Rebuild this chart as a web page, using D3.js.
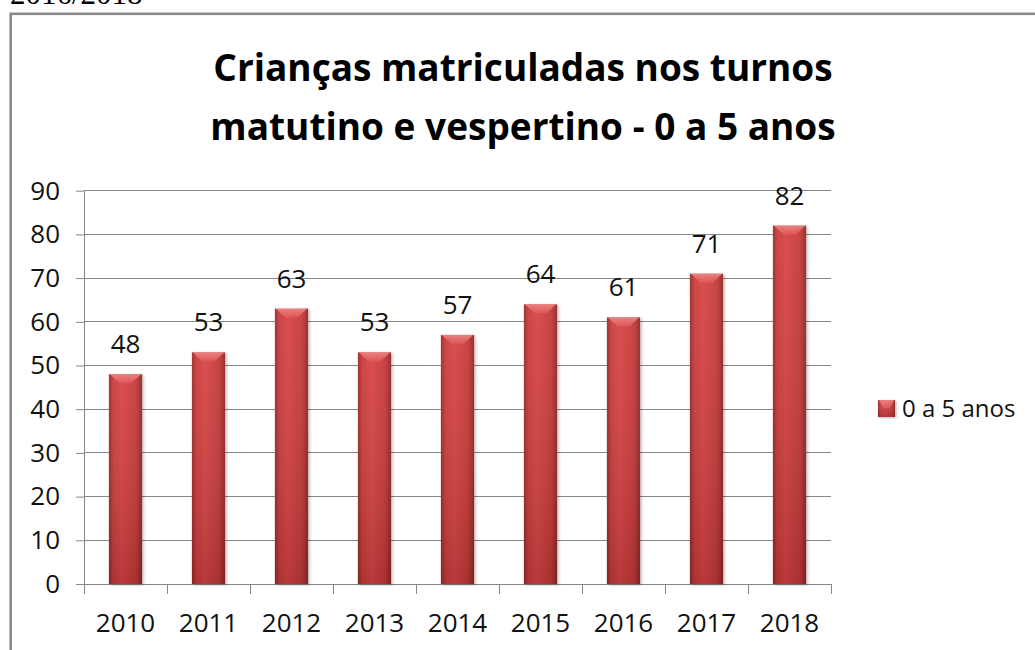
<!DOCTYPE html>
<html>
<head>
<meta charset="utf-8">
<script src="https://cdn.jsdelivr.net/npm/d3@7"></script>
<style>
  html, body { margin: 0; padding: 0; background: #fff; overflow: hidden; }
  svg { display: block; }
</style>
</head>
<body>
<div id="chart"></div>
<script>
// Crianças matriculadas 2010-2018, single series bar chart (Excel 3D-ish bars)

const YEARS = ['2010', '2011', '2012', '2013', '2014', '2015', '2016', '2017', '2018'];
const VALUES = [48, 53, 63, 53, 57, 64, 61, 71, 82];
const Y_TICKS = [0, 10, 20, 30, 40, 50, 60, 70, 80, 90];
const TITLE_LINES = ['Crianças matriculadas nos turnos', 'matutino e vespertino - 0 a 5 anos'];
const SERIES_NAME = '0 a 5 anos';
const PAGE_NOTE = '2016/2018';

const W = 1035, H = 650;
const M = { left: 84, right: 831, top: 190.7, bottom: 584 };
const FONT = "'Open Sans', 'Noto Sans', sans-serif";

const svg = d3.select('#chart').append('svg')
  .attr('width', W).attr('height', H)
  .attr('viewBox', `0 0 ${W} ${H}`);

const defs = svg.append('defs');

// horizontal shading: darker edges
const gH = defs.append('linearGradient').attr('id', 'barH')
  .attr('x1', 0).attr('x2', 1).attr('y1', 0).attr('y2', 0);
[['0%', '#9c2828'], ['14%', '#c93b3b'], ['40%', '#d74343'], ['82%', '#c33838'], ['100%', '#922525']]
  .forEach(([o, c]) => gH.append('stop').attr('offset', o).attr('stop-color', c));

// vertical shading: slightly darker toward the base
const gV = defs.append('linearGradient').attr('id', 'barV')
  .attr('x1', 0).attr('x2', 0).attr('y1', 0).attr('y2', 1);
gV.append('stop').attr('offset', '0%').attr('stop-color', '#fff').attr('stop-opacity', 0.06);
gV.append('stop').attr('offset', '100%').attr('stop-color', '#000').attr('stop-opacity', 0.14);

const gB = defs.append('linearGradient').attr('id', 'bevel')
  .attr('x1', 0).attr('x2', 0).attr('y1', 0).attr('y2', 1);
gB.append('stop').attr('offset', '0%').attr('stop-color', '#f08a8a');
gB.append('stop').attr('offset', '100%').attr('stop-color', '#df5757');

const shadow = defs.append('filter').attr('id', 'shadow')
  .attr('x', '-30%').attr('y', '-10%').attr('width', '160%').attr('height', '120%');
shadow.append('feDropShadow')
  .attr('dx', 1.5).attr('dy', 1).attr('stdDeviation', 1.6)
  .attr('flood-color', '#000').attr('flood-opacity', 0.28);

// page text cut off at the top + chart frame
svg.append('text')
  .attr('x', 10).attr('y', 4)
  .attr('font-family', "'Liberation Serif', serif")
  .attr('font-size', 31).attr('fill', '#000')
  .text(PAGE_NOTE);

svg.append('rect')
  .attr('x', 10.7).attr('y', 13.8)
  .attr('width', W + 20).attr('height', H + 20)
  .attr('fill', '#fff')
  .attr('stroke', '#888').attr('stroke-width', 2.6);

// title
svg.append('g').selectAll('text')
  .data(TITLE_LINES)
  .enter().append('text')
  .attr('x', 523)
  .attr('y', (d, i) => 81 + i * 59)
  .attr('text-anchor', 'middle')
  .attr('font-family', FONT).attr('font-weight', 700)
  .attr('font-size', 37).attr('fill', '#000')
  .text(d => d);

// scales
const x = d3.scaleBand()
  .domain(YEARS)
  .range([M.left, M.right])
  .paddingInner(0.6)
  .paddingOuter(0.3);

const y = d3.scaleLinear()
  .domain([0, 90])
  .range([M.bottom, M.top]);

// gridlines
svg.append('g').selectAll('line')
  .data(Y_TICKS.filter(t => t > 0))
  .enter().append('line')
  .attr('x1', M.left).attr('x2', M.right)
  .attr('y1', d => y(d)).attr('y2', d => y(d))
  .attr('stroke', '#868686').attr('stroke-width', 1)
  .attr('shape-rendering', 'crispEdges');

// y axis
svg.append('g')
  .attr('transform', `translate(${M.left},0)`)
  .call(d3.axisLeft(y).tickValues(Y_TICKS).tickSize(8).tickPadding(16).tickSizeOuter(0))
  .call(ax => ax.select('.domain').attr('stroke', '#868686'))
  .call(ax => ax.selectAll('.tick line').attr('stroke', '#868686'))
  .call(ax => ax.selectAll('.tick text')
    .attr('font-family', FONT).attr('font-size', 26).attr('fill', '#111'));

// x axis (labels only; tick marks drawn at category boundaries)
svg.append('g')
  .attr('transform', `translate(0,${M.bottom})`)
  .call(d3.axisBottom(x).tickSize(0).tickPadding(30).tickSizeOuter(0))
  .call(ax => ax.select('.domain').attr('stroke', '#868686'))
  .call(ax => ax.selectAll('.tick text')
    .attr('font-family', FONT).attr('font-size', 26).attr('fill', '#111'));

const gap = (x.step() - x.bandwidth()) / 2;
const bounds = YEARS.map(d => x(d) - gap).concat([M.right]);
svg.append('g').selectAll('line')
  .data(bounds)
  .enter().append('line')
  .attr('x1', d => d).attr('x2', d => d)
  .attr('y1', M.bottom).attr('y2', M.bottom + 10)
  .attr('stroke', '#868686').attr('stroke-width', 1)
  .attr('shape-rendering', 'crispEdges');

// bars
const data = YEARS.map((d, i) => ({ year: d, value: VALUES[i] }));
const bw = x.bandwidth();

function drawBar(g, x0, y0, w, h) {
  g.append('rect')
    .attr('x', x0).attr('y', y0).attr('width', w).attr('height', h)
    .attr('fill', 'url(#barH)').attr('filter', 'url(#shadow)');
  g.append('rect')
    .attr('x', x0).attr('y', y0).attr('width', w).attr('height', h)
    .attr('fill', 'url(#barV)');
  const bd = Math.min(9, h / 2);
  g.append('polygon')
    .attr('points', [
      [x0 + 1, y0], [x0 + w - 1, y0],
      [x0 + w * 0.68, y0 + bd], [x0 + w * 0.32, y0 + bd],
    ].map(p => p.join(',')).join(' '))
    .attr('fill', 'url(#bevel)').attr('opacity', 0.85);
}

const bars = svg.append('g');
data.forEach(d => {
  drawBar(bars.append('g'), x(d.year), y(d.value), bw, y(0) - y(d.value));
});

// data labels
svg.append('g').selectAll('text')
  .data(data)
  .enter().append('text')
  .attr('x', d => x(d.year) + bw / 2)
  .attr('y', d => y(d.value) - 21)
  .attr('text-anchor', 'middle')
  .attr('font-family', FONT).attr('font-size', 26).attr('fill', '#111')
  .text(d => d.value);

// legend
const lg = svg.append('g').attr('transform', 'translate(878,400)');
drawBar(lg, 0, 0, 17, 17);
lg.append('text')
  .attr('x', 24).attr('y', 17)
  .attr('font-family', FONT).attr('font-size', 24).attr('fill', '#111')
  .text(SERIES_NAME);
</script>
</body>
</html>
